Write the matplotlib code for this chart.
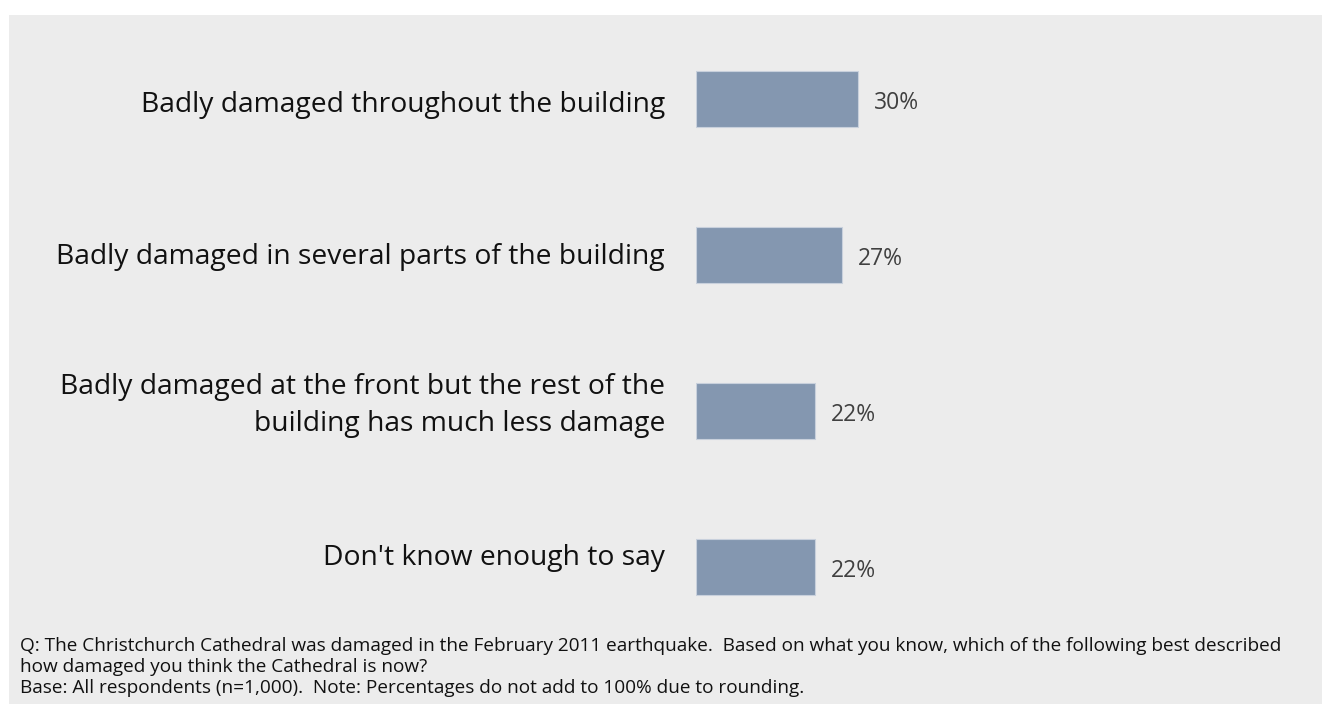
import matplotlib
matplotlib.use("Agg")
import matplotlib.pyplot as plt
from matplotlib.patches import Rectangle

# data
categories = [
    "Badly damaged throughout the building",
    "Badly damaged in several parts of the building",
    "Badly damaged at the front but the rest of the\nbuilding has much less damage",
    "Don't know enough to say",
]
values = [30, 27, 22, 22]
footnote = [
    "Q: The Christchurch Cathedral was damaged in the February 2011 earthquake.  Based on what you know, which of the following best described",
    "how damaged you think the Cathedral is now?",
    "Base: All respondents (n=1,000).  Note: Percentages do not add to 100% due to rounding.",
]

W, H = 1322, 704
bg = "#ececec"
bar_col = "#8497b0"

fig = plt.figure(figsize=(W / 100, H / 100), dpi=100, facecolor="white")
# grey panel behind everything
fig.patches.append(Rectangle((9 / W, 0), 1 - 9 / W, 1 - 15 / H,
                             transform=fig.transFigure, facecolor=bg,
                             edgecolor="none", zorder=-10))

# axes: bars start at x=696px, 5.4 px per percent
ax_left = 696 / W
ax_w = 216 / W
ax_top = 21
ax_h = 624
ax = fig.add_axes([ax_left, 1 - (ax_top + ax_h) / H, ax_w, ax_h / H])
ax.set_facecolor("none")
ax.set_xlim(0, 40)
ax.set_ylim(3.5, -0.5)
ax.axis("off")

ypos = list(range(len(categories)))
ax.barh(ypos, values, height=56 / 156, color=bar_col,
        edgecolor="#c8d0dc", linewidth=0.8)

for y, v in zip(ypos, values):
    ax.text(v + 16 / 5.4, y + 0.025, f"{v}%", va="center", ha="left",
            fontsize=16.5, color="#404040", family="Open Sans")

# category labels, right aligned 31px left of the bars
# (the original slide nudges them slightly off the bar centres)
nudge = [0.04, 0.012, -0.035, -0.057]
for y, lab, d in zip(ypos, categories, nudge):
    ax.text(-31 / 216, y + d, lab, transform=ax.get_yaxis_transform(),
            ha="right", va="center", multialignment="right",
            fontsize=20.3, family="Open Sans", color="#111111",
            linespacing=1.4)

fig.text(20 / W, 1 - 637 / H, "\n".join(footnote), ha="left", va="top",
         fontsize=13.7, family="Open Sans", color="#111111", linespacing=1.22)

fig.savefig("out.png", dpi=100, facecolor="white")
